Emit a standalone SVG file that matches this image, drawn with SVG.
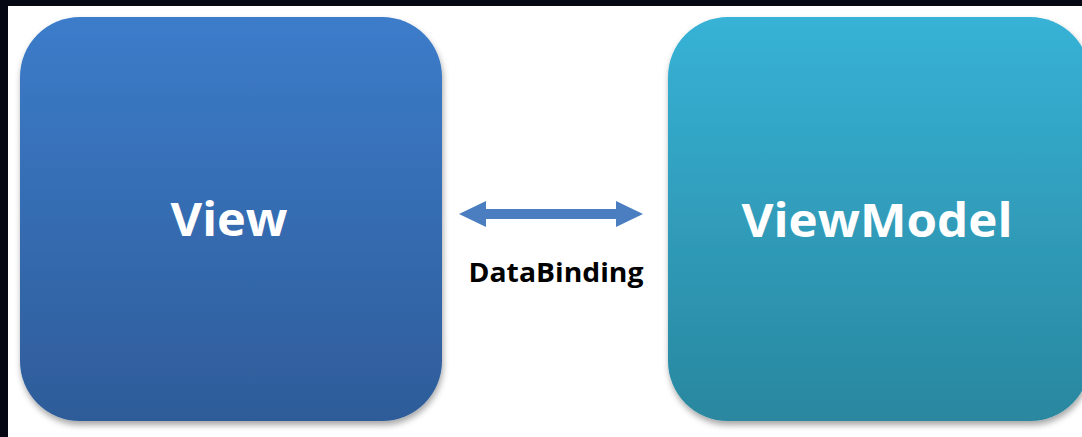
<svg xmlns="http://www.w3.org/2000/svg" width="1082" height="437" viewBox="0 0 1082 437">
<defs>
<linearGradient id="gView" x1="0" y1="0" x2="0" y2="1">
<stop offset="0" stop-color="#3c7cca"/>
<stop offset="1" stop-color="#2e5c99"/>
</linearGradient>
<linearGradient id="gVM" x1="0" y1="0" x2="0" y2="1">
<stop offset="0" stop-color="#37b2d6"/>
<stop offset="1" stop-color="#29879f"/>
</linearGradient>
<filter id="shadow" x="-10%" y="-10%" width="120%" height="125%">
<feDropShadow dx="1" dy="4" stdDeviation="3" flood-color="#000" flood-opacity="0.35"/>
</filter>
</defs>
<style>
.box{filter:url(#shadow)}
.lbl{font-family:"Open Sans","Noto Sans",sans-serif;font-weight:bold;fill:#fff;font-size:46px;text-anchor:middle}
.cap{font-family:"Open Sans","Noto Sans",sans-serif;font-weight:bold;fill:#000;font-size:27px;text-anchor:middle}
</style>
<rect x="0" y="0" width="1082" height="437" fill="#fff"/>
<rect x="0" y="0" width="1082" height="6" fill="#050812"/>
<rect x="0" y="0" width="8" height="437" fill="#050812"/>
<g id="view">
<rect class="box" x="20" y="17" width="422" height="404" rx="60" ry="60" fill="url(#gView)"/>
<text class="lbl" x="229" y="236" textLength="117" lengthAdjust="spacingAndGlyphs">View</text>
</g>
<g id="viewmodel">
<rect class="box" x="668" y="17" width="422" height="404" rx="60" ry="60" fill="url(#gVM)"/>
<text class="lbl" x="877" y="237" textLength="271" lengthAdjust="spacingAndGlyphs">ViewModel</text>
</g>
<g id="connectors">
<polygon points="459,214 486,201 486,209 616,209 616,201 643,214 616,227 616,219 486,219 486,227" fill="#4a7ec0"/>
<text class="cap" x="556" y="282" textLength="175" lengthAdjust="spacingAndGlyphs">DataBinding</text>
</g>
</svg>
